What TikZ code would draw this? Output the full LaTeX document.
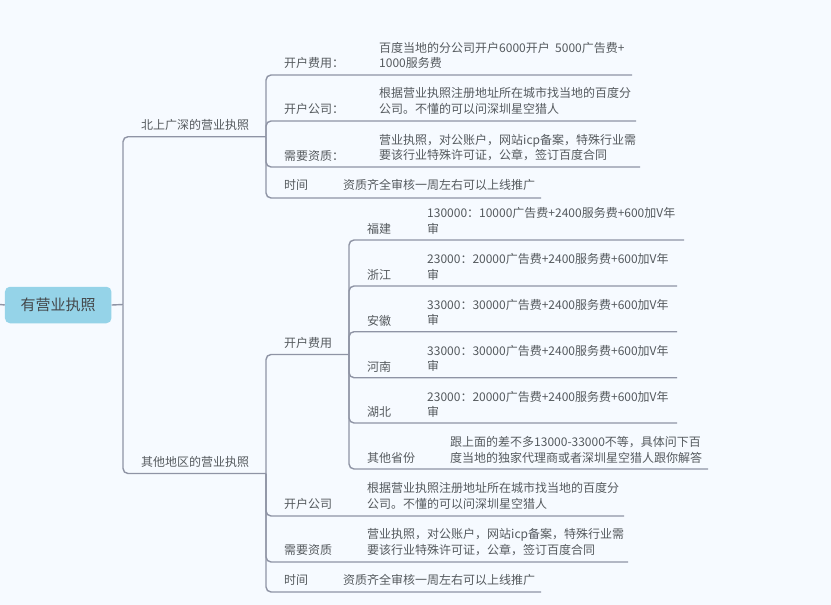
\documentclass[tikz,border=0pt]{standalone}
\usepackage{fontspec}
\usepackage{xcolor}
\setmainfont{Noto Sans CJK SC}
\definecolor{pagebg}{HTML}{F6FAFF}
\definecolor{rootblue}{HTML}{95D3E8}
\definecolor{linkgray}{HTML}{8F94A5}
\definecolor{textgray}{HTML}{555A5E}
\tikzset{
    link/.style={draw=linkgray, line width=1.4pt, rounded corners=5pt},
    topic/.style={anchor=base west, inner sep=0pt, text=textgray, font=\fontsize{12}{15.6}\selectfont},
    detail/.style={anchor=west, align=left, inner sep=0pt, text=textgray, font=\fontsize{12}{15.6}\selectfont},
    rootbox/.style={fill=rootblue, rounded corners=5pt, inner sep=0pt, minimum width=106.5pt, minimum height=36.5pt, text=textgray!80!black, font=\fontsize{15}{18}\selectfont}
}
\begin{document}
\begin{tikzpicture}[x=1pt, y=-1pt]
        \useasboundingbox (0,0) rectangle (831,605);
        \fill[pagebg] (0,0) rectangle (831,605);

        \node[rootbox] (root) at (58.2,305) {有营业执照};
        \coordinate (stub) at (0,304.5);
        \coordinate (hub) at (123,304.5);
        \draw[link] (stub) -- (root.west);
        \draw[link] (root.east) -- (hub);

        \node[topic] (city) at (141,129) {北上广深的营业执照};
        \node[topic] (other) at (141,466) {其他地区的营业执照};
        \coordinate (cityhub) at (266,136.7);
        \coordinate (otherhub) at (266,473.5);
        \draw[link] (hub) |- (cityhub);
        \draw[link] (hub) |- (otherhub);

        \node[topic] (cfee) at (284,67) {开户费用：};
        \node[detail] (cfeetext) at (379,55.5) {百度当地的分公司开户6000开户~~5000广告费+\\1000服务费};
        \node[topic] (cfirm) at (284,113) {开户公司：};
        \node[detail] (cfirmtext) at (379,101) {根据营业执照注册地址所在城市找当地的百度分\\公司。不懂的可以问深圳星空猎人};
        \node[topic] (cqual) at (284,160) {需要资质：};
        \node[detail] (cqualtext) at (379,147.5) {营业执照，对公账户，网站icp备案，特殊行业需\\要该行业特殊许可证，公章，签订百度合同};
        \node[topic] (ctime) at (284,189) {时间};
        \node[detail] (ctimetext) at (343,185) {资质齐全审核一周左右可以上线推广};
        \coordinate (cfeeend) at (632,75);
        \coordinate (cfirmend) at (636,121);
        \coordinate (cqualend) at (640,167);
        \coordinate (ctimeend) at (541,198);
        \draw[link] (cityhub) |- (cfeeend);
        \draw[link] (cityhub) |- (cfirmend);
        \draw[link] (cityhub) |- (cqualend);
        \draw[link] (cityhub) |- (ctimeend);

        \node[topic] (ofee) at (284,347) {开户费用};
        \node[topic] (ofirm) at (284,508) {开户公司};
        \node[detail] (ofirmtext) at (367,496) {根据营业执照注册地址所在城市找当地的百度分\\公司。不懂的可以问深圳星空猎人};
        \node[topic] (oqual) at (284,554) {需要资质};
        \node[detail] (oqualtext) at (367,542) {营业执照，对公账户，网站icp备案，特殊行业需\\要该行业特殊许可证，公章，签订百度合同};
        \node[topic] (otime) at (284,584) {时间};
        \node[detail] (otimetext) at (343,580) {资质齐全审核一周左右可以上线推广};
        \coordinate (feehub) at (349,354.5);
        \coordinate (ofirmend) at (624,516);
        \coordinate (oqualend) at (628,562);
        \coordinate (otimeend) at (541,592);
        \draw[link] (otherhub) |- (feehub);
        \draw[link] (otherhub) |- (ofirmend);
        \draw[link] (otherhub) |- (oqualend);
        \draw[link] (otherhub) |- (otimeend);

        \node[topic] (fujian) at (367,233) {福建};
        \node[detail] (fujiantext) at (427,221) {130000：10000广告费+2400服务费+600加V年\\审};
        \node[topic] (zhejiang) at (367,279) {浙江};
        \node[detail] (zhejiangtext) at (427,267) {23000：20000广告费+2400服务费+600加V年\\审};
        \node[topic] (anhui) at (367,325) {安徽};
        \node[detail] (anhuitext) at (427,312.5) {33000：30000广告费+2400服务费+600加V年\\审};
        \node[topic] (henan) at (367,371) {河南};
        \node[detail] (henantext) at (427,358.5) {33000：30000广告费+2400服务费+600加V年\\审};
        \node[topic] (hubei) at (367,416.5) {湖北};
        \node[detail] (hubeitext) at (427,404.5) {23000：20000广告费+2400服务费+600加V年\\审};
        \node[topic] (rest) at (367,462) {其他省份};
        \node[detail] (resttext) at (450,450) {跟上面的差不多13000-33000不等，具体问下百\\度当地的独家代理商或者深圳星空猎人跟你解答};
        \coordinate (fujianend) at (684,240);
        \coordinate (zhejiangend) at (677,286);
        \coordinate (anhuiend) at (677,331.7);
        \coordinate (henanend) at (677,377.7);
        \coordinate (hubeiend) at (677,423);
        \coordinate (restend) at (708,469);
        \draw[link] (feehub) |- (fujianend);
        \draw[link] (feehub) |- (zhejiangend);
        \draw[link] (feehub) |- (anhuiend);
        \draw[link] (feehub) |- (henanend);
        \draw[link] (feehub) |- (hubeiend);
        \draw[link] (feehub) |- (restend);
\end{tikzpicture}
\end{document}
